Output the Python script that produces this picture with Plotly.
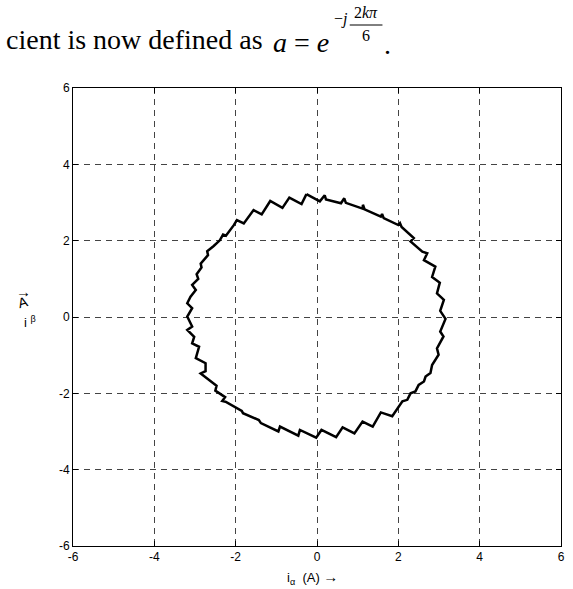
import plotly.graph_objects as go

# current space vector trajectory (i_alpha, i_beta), clockwise from the top
i_alpha = [-0.26, 0.07, 0.19, 0.22, 0.59, 0.67, 0.71, 1.12, 1.13, 1.17, 1.57, 1.60, 1.64,
           2.00, 2.04, 2.08, 2.38, 2.30, 2.59, 2.71, 2.63, 2.91, 2.83, 3.02, 2.95, 3.12,
           3.03, 3.16, 3.03, 3.11, 2.95, 2.99, 2.83, 2.79, 2.67, 2.63, 2.50, 2.42, 2.30,
           2.22, 2.10, 2.02, 1.85, 1.57, 1.37, 1.12, 0.92, 0.63, 0.47, 0.11, -0.02,
           -0.42, -0.46, -0.91, -0.95, -1.38, -1.43, -1.82, -1.85, -2.25, -2.33, -2.26,
           -2.50, -2.47, -2.86, -2.74, -2.74, -2.98, -2.90, -3.07, -3.02, -3.19, -3.07,
           -3.19, -3.07, -3.19, -3.11, -2.98, -3.07, -2.92, -2.96, -2.84, -2.86, -2.68,
           -2.70, -2.54, -2.39, -2.31, -2.24, -2.05, -1.97, -1.80, -1.56, -1.36, -1.15,
           -0.85, -0.68, -0.38, -0.26]
i_beta = [3.22, 3.03, 3.19, 3.08, 2.98, 3.11, 2.99, 2.84, 2.94, 2.82, 2.63, 2.70, 2.59,
          2.41, 2.46, 2.36, 2.07, 1.98, 1.71, 1.67, 1.49, 1.32, 1.05, 0.90, 0.62, 0.45,
          0.16, -0.05, -0.38, -0.51, -0.82, -0.99, -1.26, -1.47, -1.56, -1.69, -1.78, -1.95, -2.00,
          -2.17, -2.21, -2.34, -2.60, -2.50, -2.87, -2.74, -3.05, -2.89, -3.15, -2.96, -3.16,
          -2.96, -3.11, -2.87, -3.00, -2.78, -2.70, -2.52, -2.46, -2.22, -2.20, -2.10,
          -1.93, -1.80, -1.48, -1.42, -1.21, -1.08, -0.78, -0.69, -0.52, -0.34, -0.25,
          0.01, 0.23, 0.36, 0.53, 0.71, 0.84, 1.00, 1.12, 1.30, 1.40, 1.62,
          1.72, 1.86, 2.01, 2.16, 2.13, 2.40, 2.54, 2.45, 2.80, 2.69, 3.04,
          2.86, 3.13, 2.96, 3.22]

tick_vals = [-6, -4, -2, 0, 2, 4, 6]
tick_text = ['-6', '-4', '-2', '0', '2', '4', '6']

W, H = 573, 589
L, R, T, B = 73, 8, 88, 43


def px(x, y):
    # page pixel -> paper coordinates
    return (x - L) / (W - L - R), (H - B - y) / (H - T - B)


fig = go.Figure()
fig.add_trace(go.Scatter(x=i_alpha, y=i_beta, mode='lines',
                         line=dict(color='black', width=2.5), hoverinfo='skip'))

axis = dict(range=[-6, 6], tickvals=tick_vals, ticktext=tick_text, ticks='inside', ticklen=5,
            tickcolor='black', showline=True, linecolor='black', linewidth=1,
            mirror='ticks', showgrid=True, gridcolor='#444', gridwidth=1,
            griddash='6px,5px', zeroline=False, ticklabeloverflow='allow',
            tickfont=dict(family='Liberation Sans, Arial', size=12, color='black'))
fig.update_xaxes(**axis)
fig.update_yaxes(**axis)

ann = []


def text(x, y, s, size=12, family='Liberation Sans, Arial', xanchor='center', angle=0):
    xp, yp = px(x, y)
    ann.append(dict(x=xp, y=yp, xref='paper', yref='paper', text=s, showarrow=False,
                    xanchor=xanchor, yanchor='middle', textangle=angle,
                    font=dict(family=family, size=size, color='black')))


serif = 'Liberation Serif, Times New Roman'
# sentence above the chart
text(3, 40, 'cient is now defined as', size=28, family=serif, xanchor='left')
text(273, 42, '<i>a</i> = <i>e</i>', size=28, family=serif, xanchor='left')
text(343, 19, '\u2212<i>j</i>', size=16, family=serif)
text(368, 12, '2<i>k\u03c0</i>', size=16, family=serif)
text(368, 36, '6', size=16, family=serif)
text(390, 44, '.', size=28, family=serif)

# axis labels
text(314, 577, 'i<sub>\u03b1</sub>  (A) <span style="font-size:15px">\u2192</span>', size=13)
text(30, 322, 'i <sup>\u03b2</sup>', size=13)
text(23, 291, '\u2192', size=15)
text(23, 302, 'A', size=14, angle=-15)

fig.add_shape(type='line', xref='paper', yref='paper',
              x0=px(352, 25)[0], x1=px(385, 25)[0], y0=px(0, 25)[1], y1=px(0, 25)[1],
              line=dict(color='black', width=1))

fig.update_layout(width=W, height=H, autosize=False,
                  margin=dict(l=L, r=R, t=T, b=B),
                  plot_bgcolor='white', paper_bgcolor='white',
                  showlegend=False, annotations=ann)

# the page body has a default 8px margin; drop it so the figure sits at the corner
fig.write_html("out.html", config={'displayModeBar': False},
               post_script="document.body.style.margin='0';")
